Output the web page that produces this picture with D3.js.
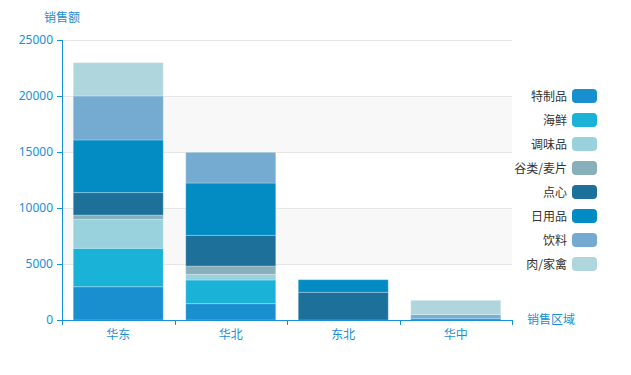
<!DOCTYPE html>
<html><head><meta charset="utf-8">
<script src="https://cdn.jsdelivr.net/npm/d3@7"></script>
<style>body{margin:0;background:#fff}svg{display:block;font-family:"Noto Sans CJK SC","Noto Sans",sans-serif}</style>
</head><body><svg id="c" width="631" height="375"></svg>
<script>
const regions = ["华东","华北","东北","华中"];
const series = ["特制品","海鲜","调味品","谷类/麦片","点心","日用品","饮料","肉/家禽"];
const colors = ["#1a8fd0","#1bb2d8","#99d2dd","#88b0bb","#1c7099","#038cc4","#75abd0","#afd6dd"];
const v特制品 = [2970,1460,0,150];
const v海鲜 = [3430,2110,0,0];
const v调味品 = [2590,510,0,0];
const v谷类 = [385,740,0,0];
const v点心 = [2000,2740,2470,0];
const v日用品 = [4700,4670,1130,0];
const v饮料 = [3930,2740,0,330];
const v肉 = [2970,0,0,1280];
const yTicks = [0,5000,10000,15000,20000,25000];
const values = [v特制品,v海鲜,v调味品,v谷类,v点心,v日用品,v饮料,v肉];

const svg = d3.select("#c");
const L=62,R=512,T=40,B=320;
const axisColor="#1890d6";
const x = d3.scaleBand().domain(regions).range([L,R]).paddingInner(0.2).paddingOuter(0.1);
const xb = d3.scaleBand().domain(regions).range([L,R]);
const y = d3.scaleLinear().domain([0,25000]).range([B,T]);

// split areas
for(let i=0;i<yTicks.length-1;i++){
  if(i%2===1) svg.append("rect").attr("x",L).attr("width",R-L)
    .attr("y",y(yTicks[i+1])).attr("height",y(yTicks[i])-y(yTicks[i+1])).attr("fill","#f8f8f8");
}
// gridlines
svg.append("g").selectAll("line").data(yTicks.slice(1)).join("line")
  .attr("x1",L).attr("x2",R).attr("y1",d=>y(d)+0.5).attr("y2",d=>y(d)+0.5)
  .attr("stroke","#e6e6e6");

// stacked data
const rows = regions.map((r,i)=>{const o={region:r}; series.forEach((s,j)=>o[s]=values[j][i]); return o;});
const stack = d3.stack().keys(series)(rows);
svg.append("g").selectAll("g").data(stack).join("g").attr("fill",(d,i)=>colors[i])
  .selectAll("rect").data(d=>d.filter(p=>p[1]-p[0]>0)).join("rect")
  .attr("x",d=>x(d.data.region)).attr("width",x.bandwidth())
  .attr("y",d=>y(d[1])).attr("height",d=>y(d[0])-y(d[1]))
  .attr("stroke","#fff").attr("stroke-opacity",0.25).attr("stroke-width",1);

// y axis
const ya = svg.append("g").attr("transform",`translate(${L},0)`)
  .call(d3.axisLeft(y).tickValues(yTicks).tickSize(5).tickPadding(4).tickFormat(d3.format("d")));
ya.selectAll("path,line").attr("stroke",axisColor);
ya.select("path").attr("d",`M0.5,${B}V${T}`);
ya.selectAll("text").attr("fill",axisColor).style("font-size","12px").style("font-family","'Noto Sans','Noto Sans CJK SC',sans-serif");

// x axis
const xa = svg.append("g").attr("transform",`translate(0,${B})`);
xa.append("line").attr("x1",L).attr("x2",R).attr("y1",0.5).attr("y2",0.5).attr("stroke",axisColor);
const bounds = regions.map(r=>xb(r)).concat([R]);
xa.selectAll("line.t").data(bounds).join("line").attr("class","t")
  .attr("x1",d=>Math.round(d)+0.5).attr("x2",d=>Math.round(d)+0.5).attr("y1",0).attr("y2",5).attr("stroke",axisColor);
xa.selectAll("text").data(regions).join("text")
  .attr("x",d=>xb(d)+xb.bandwidth()/2).attr("y",19).attr("text-anchor","middle")
  .attr("fill",axisColor).style("font-size","12px").text(d=>d);

// axis names
svg.append("text").attr("x",62).attr("y",22).attr("text-anchor","middle").attr("fill",axisColor).style("font-size","12px").text("销售额");
svg.append("text").attr("x",527).attr("y",324).attr("fill",axisColor).style("font-size","12px").text("销售区域");

// legend
const lg = svg.append("g").selectAll("g").data(series).join("g")
  .attr("transform",(d,i)=>`translate(0,${96+i*24})`);
lg.append("rect").attr("x",572).attr("y",-7).attr("width",25).attr("height",14).attr("rx",4).attr("fill",(d,i)=>colors[i]);
lg.append("text").attr("x",567).attr("y",4.5).attr("text-anchor","end").attr("fill","#333").style("font-size","12px").text(d=>d);
</script></body></html>
